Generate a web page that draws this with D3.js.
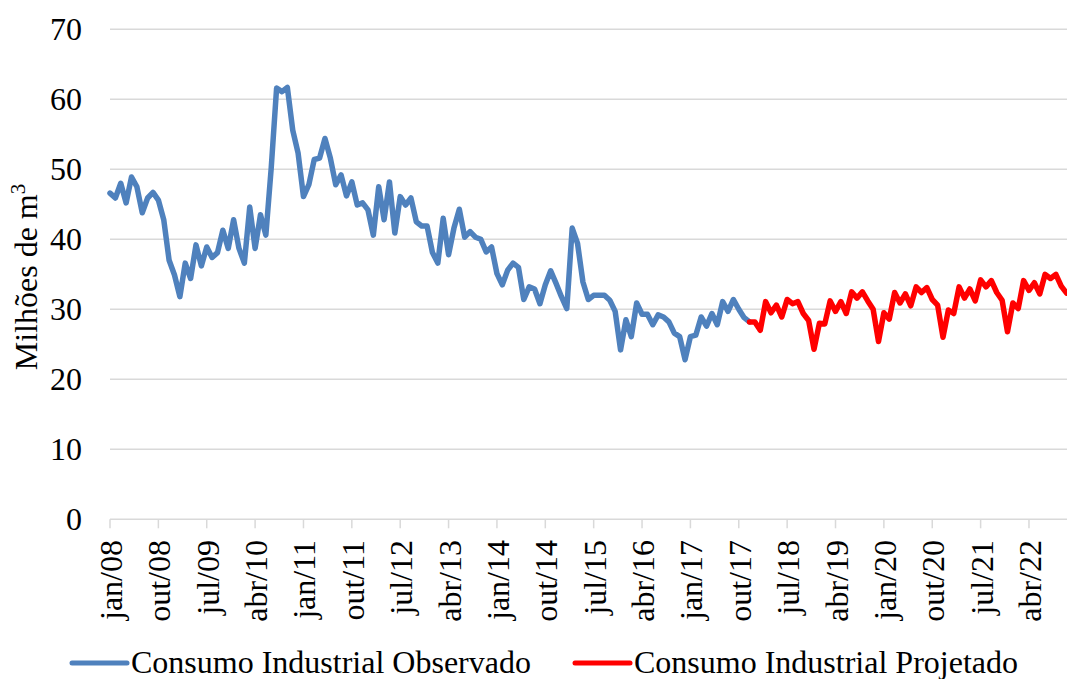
<!DOCTYPE html>
<html>
<head>
<meta charset="utf-8">
<script src="https://cdn.jsdelivr.net/npm/d3@7"></script>
<style>
    html, body { margin: 0; padding: 0; background: #fff; }
    svg { display: block; font-family: "Liberation Serif", "Times New Roman", serif; }
</style>
</head>
<body>
<div id="chart"></div>
<script>
// month names used for the categories (jan/08 ... nov/22)
var monthNames = ['jan', 'fev', 'mar', 'abr', 'mai', 'jun', 'jul', 'ago', 'set', 'out', 'nov', 'dez'];
var firstYear = 2008;

// Consumo Industrial Observado, jan/08 - dez/17 (milhões de m3)
var observado = [
    46.6, 45.9, 48.0, 45.2, 48.9, 47.5, 43.8, 45.9, 46.7, 45.6, 42.8, 37.0,
    34.9, 31.8, 36.6, 34.4, 39.2, 36.2, 38.9, 37.4, 38.1, 41.3, 38.7, 42.8,
    38.7, 36.6, 44.6, 38.7, 43.5, 40.6, 50.2, 61.6, 61.1, 61.7, 55.6, 52.3,
    46.1, 47.8, 51.4, 51.6, 54.4, 51.6, 47.8, 49.2, 46.2, 48.2, 44.9, 45.2,
    44.2, 40.6, 47.5, 42.8, 48.2, 40.9, 46.1, 44.9, 45.9, 42.5, 41.9, 41.9,
    38.1, 36.6, 43.0, 37.8, 41.6, 44.3, 40.3, 41.1, 40.3, 40.0, 38.2, 38.9,
    35.1, 33.5, 35.6, 36.6, 36.0, 31.4, 33.2, 32.9, 30.8, 33.5, 35.5, 33.7,
    31.8, 30.1, 41.6, 39.4, 33.9, 31.4, 32.0, 32.0, 32.0, 31.3, 29.7, 24.2,
    28.5, 26.1, 30.9, 29.3, 29.3, 27.8, 29.2, 28.9, 28.2, 26.6, 26.1, 22.8,
    26.1, 26.3, 28.9, 27.6, 29.4, 27.8, 31.1, 29.7, 31.4, 30.0, 28.8, 28.2
];

// Consumo Industrial Projetado, dez/17 - nov/22 (starts on the last observed month)
var projetadoStart = 119;
var projetado = [
    28.2, 28.2, 27.0, 31.1, 29.5, 30.6, 28.9, 31.4, 30.8, 31.1, 29.4, 28.4,
    24.3, 28.0, 27.9, 31.2, 29.7, 31.1, 29.4, 32.5, 31.6, 32.5, 31.2, 30.0,
    25.4, 29.5, 28.6, 32.4, 30.9, 32.2, 30.5, 33.2, 32.4, 33.1, 31.4, 30.6,
    26.0, 29.9, 29.4, 33.2, 31.6, 32.9, 31.2, 34.2, 33.2, 34.1, 32.4, 31.3,
    26.8, 30.9, 30.1, 34.1, 32.7, 33.8, 32.2, 35.0, 34.4, 35.0, 33.3, 32.3
];

var yTicks = [0, 10, 20, 30, 40, 50, 60, 70];
var xTickLabels = ['jan/08', 'out/08', 'jul/09', 'abr/10', 'jan/11', 'out/11', 'jul/12',
    'abr/13', 'jan/14', 'out/14', 'jul/15', 'abr/16', 'jan/17', 'out/17', 'jul/18',
    'abr/19', 'jan/20', 'out/20', 'jul/21', 'abr/22'];

var seriesInfo = [
    {name: 'Consumo Industrial Observado', color: '#4f81bd'},
    {name: 'Consumo Industrial Projetado', color: '#ff0000'}
];

var width = 1067,
    height = 679,
    fontSize = 32,
    gridColor = '#d9d9d9';

var numMonths = projetadoStart + projetado.length;
var categories = d3.range(numMonths).map(function(i) {
    var y = firstYear + Math.floor(i / 12);
    return monthNames[i % 12] + '/' + String(y).slice(2);
});

var x = d3.scaleLinear()
    .domain([0, numMonths - 1])
    .range([110, 1066.6]);

var y = d3.scaleLinear()
    .domain([0, 70])
    .range([519.3, 29.3]);

var svg = d3.select('#chart').append('svg')
    .attr('width', width)
    .attr('height', height);

// horizontal gridlines
svg.append('g').selectAll('line')
    .data(yTicks.filter(function(d) { return d > 0; }))
  .enter().append('line')
    .attr('x1', x(0))
    .attr('x2', width)
    .attr('y1', function(d) { return y(d); })
    .attr('y2', function(d) { return y(d); })
    .attr('stroke', gridColor)
    .attr('stroke-width', 1.5);

// y axis labels
svg.append('g').selectAll('text')
    .data(yTicks)
  .enter().append('text')
    .attr('x', 82)
    .attr('y', function(d) { return y(d); })
    .attr('dy', '0.34em')
    .attr('text-anchor', 'end')
    .attr('font-size', fontSize)
    .text(function(d) { return d; });

// x axis line + tick marks every 9 months
var tickIdx = xTickLabels.map(function(label) { return categories.indexOf(label); });

svg.append('line')
    .attr('x1', x(0))
    .attr('x2', width)
    .attr('y1', y(0))
    .attr('y2', y(0))
    .attr('stroke', gridColor)
    .attr('stroke-width', 1.5);

svg.append('g').selectAll('line')
    .data(tickIdx)
  .enter().append('line')
    .attr('x1', function(d) { return x(d); })
    .attr('x2', function(d) { return x(d); })
    .attr('y1', y(0))
    .attr('y2', y(0) + 9)
    .attr('stroke', gridColor)
    .attr('stroke-width', 1.5);

svg.append('g').selectAll('text')
    .data(tickIdx)
  .enter().append('text')
    .attr('transform', 'rotate(-90)')
    .attr('x', -540)
    .attr('y', function(d) { return x(d) + 12; })
    .attr('text-anchor', 'end')
    .attr('font-size', fontSize)
    .text(function(d, i) { return xTickLabels[i]; });

// y axis title
var title = svg.append('text')
    .attr('transform', 'translate(37,277) rotate(-90)')
    .attr('text-anchor', 'middle')
    .attr('font-size', fontSize);
title.append('tspan').text('Milhões de m');
title.append('tspan')
    .attr('font-size', 21)
    .attr('dy', -12)
    .text('3');

// lines
var line = d3.line()
    .x(function(d) { return x(d.i); })
    .y(function(d) { return y(d.v); });

var obsPoints = observado.map(function(v, i) { return {i: i, v: v}; });
var projPoints = projetado.map(function(v, i) { return {i: projetadoStart + i, v: v}; });

[obsPoints, projPoints].forEach(function(points, k) {
    svg.append('path')
        .datum(points)
        .attr('d', line)
        .attr('fill', 'none')
        .attr('stroke', seriesInfo[k].color)
        .attr('stroke-width', 5.5)
        .attr('stroke-linejoin', 'round')
        .attr('stroke-linecap', 'round');
});

// legend
var legendX = [72, 575];
var legend = svg.append('g').selectAll('g')
    .data(seriesInfo)
  .enter().append('g')
    .attr('transform', function(d, i) { return 'translate(' + legendX[i] + ',663)'; });

legend.append('line')
    .attr('x1', 0)
    .attr('x2', 55)
    .attr('stroke', function(d) { return d.color; })
    .attr('stroke-width', 5)
    .attr('stroke-linecap', 'round');

legend.append('text')
    .attr('x', 59)
    .attr('y', 10)
    .attr('font-size', fontSize)
    .text(function(d) { return d.name; });
</script>
</body>
</html>
